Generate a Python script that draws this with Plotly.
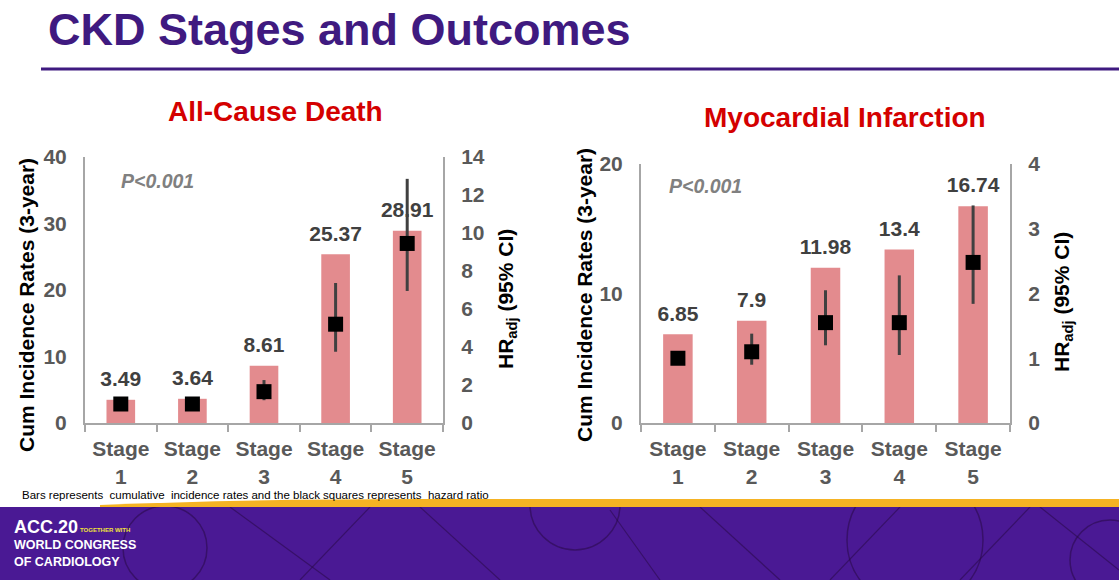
import plotly.graph_objects as go

# ---------------- data ----------------
stages = ["Stage 1", "Stage 2", "Stage 3", "Stage 4", "Stage 5"]
stage_ticks = ["Stage<br>1", "Stage<br>2", "Stage<br>3", "Stage<br>4", "Stage<br>5"]

death_rate = [3.49, 3.64, 8.61, 25.37, 28.91]
death_hr = [1.0, 1.0, 1.65, 5.2, 9.45]
death_hr_lo = [0.8, 0.8, 1.2, 3.75, 6.95]
death_hr_hi = [1.25, 1.3, 2.26, 7.37, 12.85]

mi_rate = [6.85, 7.9, 11.98, 13.4, 16.74]
mi_hr = [1.0, 1.1, 1.55, 1.55, 2.48]
mi_hr_lo = [0.9, 0.9, 1.2, 1.05, 1.84]
mi_hr_hi = [1.1, 1.38, 2.05, 2.28, 3.36]

left_ticks_death = [0, 10, 20, 30, 40]
right_ticks_death = [0, 2, 4, 6, 8, 10, 12, 14]
left_ticks_mi = [0, 10, 20]
right_ticks_mi = [0, 1, 2, 3, 4]

W, H = 1119, 580
FONT = "Liberation Sans, Arial, sans-serif"
BAR = "#e38b8e"
AX = "#a6a6a6"
TICKC = "#595959"


def px(x):
    return x / W


def py(y):
    return 1 - y / H


fig = go.Figure()


def add_panel(rate, hr, lo, hi, xa, ya, ya2):
    fig.add_trace(go.Bar(
        x=stages, y=rate, width=0.4, marker=dict(color=BAR, line=dict(width=0)),
        xaxis=xa, yaxis=ya, showlegend=False, hoverinfo="skip"))
    # value labels above the bars (invisible marker pushes the text up a little)
    fig.add_trace(go.Scatter(
        x=stages, y=rate, mode="markers+text", text=[f"{v:g}" for v in rate],
        textposition="top center", marker=dict(size=12, opacity=0),
        textfont=dict(family=FONT, size=21, color="#404040", weight="bold"),
        xaxis=xa, yaxis=ya, showlegend=False, hoverinfo="skip", cliponaxis=False))
    fig.add_trace(go.Scatter(
        x=stages, y=hr, mode="markers",
        marker=dict(symbol="square", size=15, color="black"),
        error_y=dict(type="data", symmetric=False,
                     array=[h - m for h, m in zip(hi, hr)],
                     arrayminus=[m - l for m, l in zip(hr, lo)],
                     color="#404040", thickness=3, width=0),
        xaxis=xa, yaxis=ya2, showlegend=False, hoverinfo="skip", cliponaxis=False))


add_panel(death_rate, death_hr, death_hr_lo, death_hr_hi, "x", "y", "y2")
add_panel(mi_rate, mi_hr, mi_hr_lo, mi_hr_hi, "x2", "y3", "y4")

tickfont = dict(family=FONT, size=21, color=TICKC, weight="bold")

xcommon = dict(type="category", showline=True, linecolor=AX, linewidth=2,
               ticks="outside", ticklen=7, tickcolor=AX, tickwidth=2,
               tickson="boundaries", tickfont=tickfont, showgrid=False,
               tickvals=stages, ticktext=stage_ticks, range=[-0.5, 4.5],
               ticklabelstandoff=6, fixedrange=True, automargin=False)
ycommon = dict(showline=True, linecolor=AX, linewidth=2, showgrid=False,
               zeroline=False, ticks="", tickfont=tickfont,
               ticklabelstandoff=12, fixedrange=True, automargin=False)

d1y = [py(423), py(157)]
d2y = [py(423), py(164)]

fig.update_layout(
    template="none",
    width=W, height=H, margin=dict(l=0, r=0, t=0, b=0, pad=0), autosize=False,
    paper_bgcolor="white", plot_bgcolor="rgba(0,0,0,0)",
    xaxis=dict(domain=[px(85), px(443)], anchor="y", **xcommon),
    yaxis=dict(domain=d1y, anchor="x", range=[0, 40], tickvals=left_ticks_death, **ycommon),
    yaxis2=dict(overlaying="y", side="right", anchor="x", range=[0, 14],
                tickvals=right_ticks_death, **ycommon),
    xaxis2=dict(domain=[px(641), px(1010)], anchor="y3", **xcommon),
    yaxis3=dict(domain=d2y, anchor="x2", range=[0, 20], tickvals=left_ticks_mi, **ycommon),
    yaxis4=dict(overlaying="y3", side="right", anchor="x2", range=[0, 4],
                tickvals=right_ticks_mi, **ycommon),
)

ann = []


def text(x, y, s, size, color, bold=True, italic=False, angle=0, xanchor="center", family=FONT):
    ann.append(dict(x=px(x), y=py(y), xref="paper", yref="paper", text=s, showarrow=False,
                    xanchor=xanchor, yanchor="middle", textangle=angle,
                    font=dict(family=family, size=size, color=color,
                              weight="bold" if bold else "normal",
                              style="italic" if italic else "normal")))


text(46, 30, "CKD Stages and Outcomes", 45, "#3f1a80", xanchor="left")
text(275, 112, "All-Cause Death", 28, "#d40000")
text(845, 117, "Myocardial Infarction", 28, "#d40000")
text(26, 305, "Cum Incidence Rates (3-year)", 21, "black", angle=-90)
text(507, 299, "HR<sub>adj</sub> (95% CI)", 21, "black", angle=-90)
text(584, 295, "Cum Incidence Rates (3-year)", 21, "black", angle=-90)
text(1063, 302, "HR<sub>adj</sub> (95% CI)", 21, "black", angle=-90)
text(119, 181, "P<0.001", 19.5, "#808080", italic=True, xanchor="left")
text(667, 186, "P<0.001", 19.5, "#808080", italic=True, xanchor="left")
text(20, 495, "Bars represents  cumulative  incidence rates and the black squares represents  hazard ratio",
     11.5, "black", bold=False, xanchor="left")

LOGO = "Liberation Sans, Arial, sans-serif"
text(12, 527, "ACC.20", 18, "white", xanchor="left", family=LOGO)
text(78, 530, "TOGETHER WITH", 6, "#f2e23a", xanchor="left", family=LOGO)
text(12, 545, "WORLD CONGRESS", 12.5, "white", xanchor="left", family=LOGO)
text(12, 562, "OF CARDIOLOGY", 12.5, "white", xanchor="left", family=LOGO)

fig.update_layout(annotations=ann)

# ---------- decorative shapes ----------
shapes = []
band_top = 507
shapes.append(dict(type="line", xref="paper", yref="paper", x0=px(41), x1=1, y0=py(69), y1=py(69),
                   line=dict(color="#3f1a80", width=3)))
shapes.append(dict(type="rect", xref="paper", yref="paper", x0=0, x1=1, y0=0, y1=py(band_top),
                   fillcolor="#4a1994", line=dict(width=0), layer="below"))
deco = "rgba(40,10,70,0.55)"
for (cx, cy, r) in [(165, 548, 42), (575, 505, 45), (915, 540, 68), (1110, 560, 40)]:
    shapes.append(dict(type="circle", xref="paper", yref="paper",
                       x0=px(cx - r), x1=px(cx + r), y0=py(cy + r), y1=py(cy - r),
                       line=dict(color=deco, width=1.5), layer="below"))
for (x0, y0, x1, y1) in [(230, 507, 330, 580), (420, 507, 500, 580), (700, 507, 780, 580),
                         (830, 580, 900, 507), (960, 580, 1030, 507), (1040, 507, 1119, 570),
                         (610, 510, 660, 580), (300, 580, 370, 507)]:
    shapes.append(dict(type="line", xref="paper", yref="paper",
                       x0=px(x0), y0=py(y0), x1=px(x1), y1=py(y1),
                       line=dict(color=deco, width=1.2), layer="below"))
# white cover above the band (hides circle tops)
shapes.append(dict(type="rect", xref="paper", yref="paper", x0=0, x1=1, y0=py(band_top), y1=py(430),
                   fillcolor="white", line=dict(width=0), layer="below"))
# orange strip, tapering in from the left
shapes.append(dict(type="path", xref="paper", yref="paper",
                   path=f"M {px(100)} {py(505)} Q {px(250)} {py(499)} {px(420)} {py(499)} L 1 {py(499)} L 1 {py(507)} L {px(100)} {py(507)} Z",
                   fillcolor="#f5b324", line=dict(width=0), layer="below"))
fig.update_layout(shapes=shapes)

fig.write_html("out.html", config={"displayModeBar": False},
               post_script="document.body.style.margin='0';document.body.style.overflow='hidden';")
